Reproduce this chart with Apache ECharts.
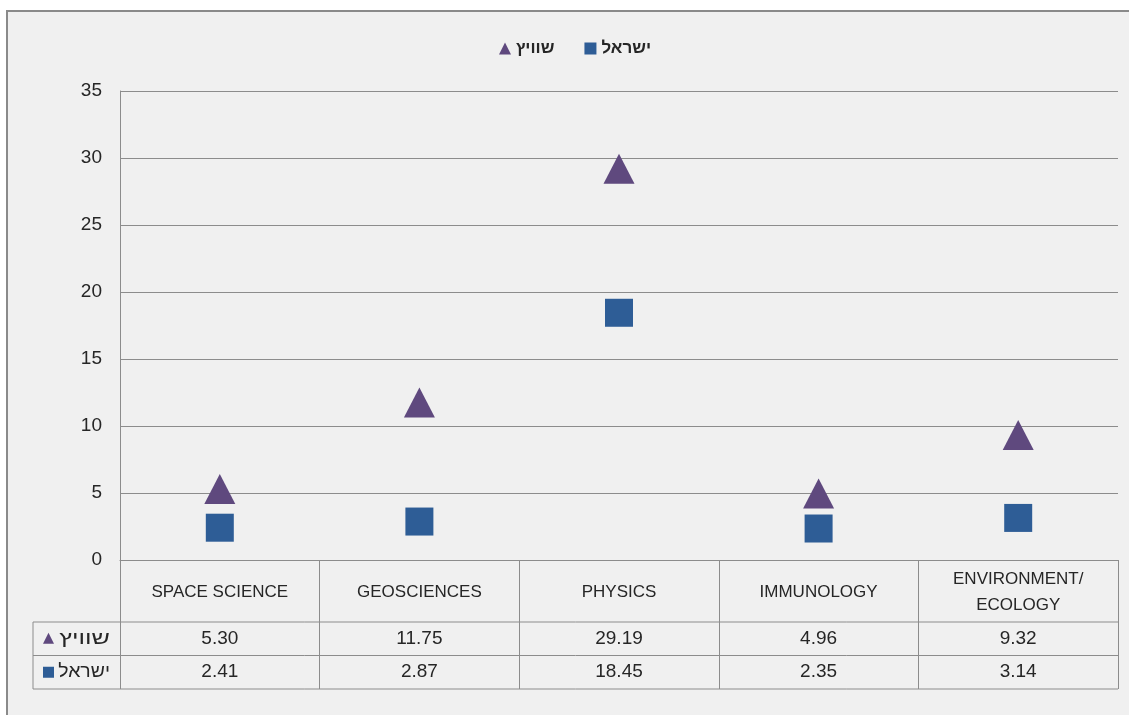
<!DOCTYPE html>
<html><head><meta charset="utf-8">
<script src="https://cdn.jsdelivr.net/npm/echarts@6/dist/echarts.min.js"></script>
<style>html,body{margin:0;padding:0;background:#fff}#c{width:1129px;height:715px}</style>
</head><body><div id="c"></div>
<script>
const categories = ['SPACE SCIENCE', 'GEOSCIENCES', 'PHYSICS', 'IMMUNOLOGY', 'ENVIRONMENT/\nECOLOGY'];
const swissValues = [5.30, 11.75, 29.19, 4.96, 9.32];
const israelValues = [2.41, 2.87, 18.45, 2.35, 3.14];
const seriesNames = ['שוויץ', 'ישראל'];
const swissLabels = ['5.30', '11.75', '29.19', '4.96', '9.32'];
const israelLabels = ['2.41', '2.87', '18.45', '2.35', '3.14'];
const yMin = 0, yMax = 35, yStep = 5;

const FONT = "'Liberation Sans', 'DejaVu Sans', sans-serif";
const GRID = '#8c8c8c';
const PURPLE = '#5f497e';
const BLUE = '#2e5d96';
const TXT = '#262626';

const chart = echarts.init(document.getElementById('c'), null, {renderer: 'canvas'});
chart.setOption({
  backgroundColor: '#ffffff',
  animation: false,
  textStyle: {fontFamily: FONT},
  legend: {
    top: 35, left: 494, itemGap: 30, itemWidth: 12, itemHeight: 12,
    textStyle: {fontFamily: FONT, fontSize: 17, fontWeight: 'bold', color: TXT},
    data: [{name: seriesNames[0], icon: 'triangle'}, {name: seriesNames[1], icon: 'rect'}]
  },
  grid: {left: 120, right: 11, top: 91, bottom: 155, containLabel: false},
  xAxis: {
    type: 'category', data: categories, boundaryGap: true,
    axisLine: {show: true, lineStyle: {color: GRID, width: 1}},
    axisTick: {show: true, interval: 0, length: 129, lineStyle: {color: GRID, width: 1}},
    axisLabel: {show: false}, splitLine: {show: false}
  },
  yAxis: {
    type: 'value', min: yMin, max: yMax, interval: yStep,
    axisLine: {show: true, lineStyle: {color: GRID}},
    axisTick: {show: false},
    axisLabel: {fontSize: 19, color: TXT, margin: 18, fontFamily: FONT},
    splitLine: {show: true, lineStyle: {color: GRID, width: 1}}
  },
  series: [
    {name: seriesNames[0], type: 'scatter', data: swissValues, symbol: 'triangle', symbolSize: [31, 30], itemStyle: {color: PURPLE, opacity: 1}, z: 3},
    {name: seriesNames[1], type: 'scatter', data: israelValues, symbol: 'rect', symbolSize: [28, 28], itemStyle: {color: BLUE, opacity: 1}, z: 3}
  ]
});

// data table built from axis geometry
const xs = categories.map(c => chart.convertToPixel({xAxisIndex: 0}, c));
const bw = xs[1] - xs[0];
const y0 = chart.convertToPixel({yAxisIndex: 0}, yMin);
const xL = xs[0] - bw / 2, xR = xs[xs.length - 1] + bw / 2;
const rowH0 = 62, rowH = 33.5;
const r1 = y0 + rowH0, r2 = r1 + rowH, r3 = r2 + rowH;
const labelLeft = 33;
const g = [];
g.push({type: 'rect', shape: {x: 7, y: 11, width: 1200, height: 800}, style: {fill: '#f0f0f0', stroke: '#8a8a8a', lineWidth: 2}, z: -10, silent: true});
const line = (x1, y1, x2, y2) => g.push({type: 'line', shape: {x1, y1, x2, y2}, style: {stroke: GRID, lineWidth: 1}, z: 1, silent: true});
line(labelLeft, r1, xR, r1);
line(labelLeft, r2, xR, r2);
line(labelLeft, r3, xR, r3);
line(labelLeft, r1, labelLeft, r3);
categories.forEach((c, i) => {
  g.push({type: 'text', x: xs[i], y: y0 + rowH0 / 2 + 1, style: {text: c, fill: TXT, font: '17px ' + FONT, align: 'center', verticalAlign: 'middle', lineHeight: 26}, z: 2});
  g.push({type: 'text', x: xs[i], y: r1 + rowH / 2, style: {text: swissLabels[i], fill: TXT, font: '19px ' + FONT, align: 'center', verticalAlign: 'middle'}, z: 2});
  g.push({type: 'text', x: xs[i], y: r2 + rowH / 2, style: {text: israelLabels[i], fill: TXT, font: '19px ' + FONT, align: 'center', verticalAlign: 'middle'}, z: 2});
});
// row headers
const hx = xL - 10;
g.push({type: 'text', x: hx, y: r1 + rowH / 2, scaleX: 1.4, style: {text: seriesNames[0], fill: TXT, font: '18px ' + FONT, align: 'right', verticalAlign: 'middle'}, z: 2});
g.push({type: 'text', x: hx, y: r2 + rowH / 2, scaleX: 1.08, style: {text: seriesNames[1], fill: TXT, font: '18px ' + FONT, align: 'right', verticalAlign: 'middle'}, z: 2});
g.push({type: 'polygon', shape: {points: [[43, r1 + rowH / 2 + 5], [54, r1 + rowH / 2 + 5], [48.5, r1 + rowH / 2 - 6]]}, style: {fill: PURPLE}, z: 2});
g.push({type: 'rect', shape: {x: 43, y: r2 + rowH / 2 - 5.5, width: 11, height: 11}, style: {fill: BLUE}, z: 2});
chart.setOption({graphic: g});
</script></body></html>
